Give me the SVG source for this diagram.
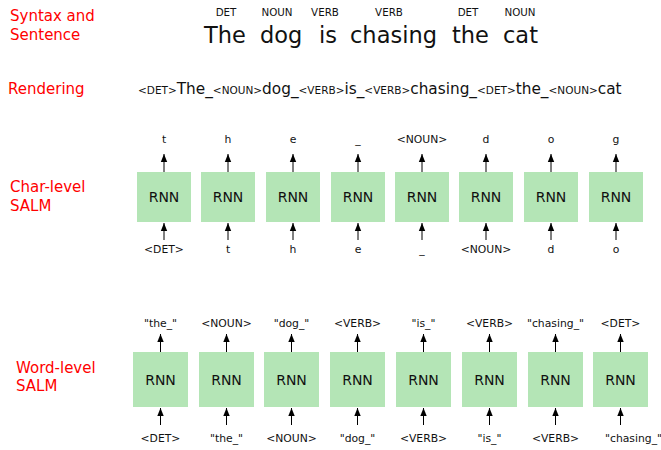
<svg xmlns="http://www.w3.org/2000/svg" width="661" height="450" viewBox="0 0 661 450">
<style>
text{font-family:"DejaVu Sans","Liberation Sans",sans-serif;fill:#111}
.red{fill:#ff0000;font-size:15px}
.pos{font-size:10.3px;text-anchor:middle}
.lbl{font-size:10.8px;text-anchor:middle}
.rnn{font-size:14px;text-anchor:middle}
.box{fill:#b4e5b6}
.arr{stroke:#000;stroke-width:1;fill:none;marker-end:url(#ah)}
.tag{font-size:10.5px}
.wd{font-size:15.3px}
</style>
<defs>
<marker id="ah" markerUnits="userSpaceOnUse" markerWidth="8" markerHeight="8" viewBox="0 0 8 8" refX="8" refY="4" orient="auto">
<path d="M0,0.8 L8,4 L0,7.2 Z" fill="#000"/>
</marker>
</defs>
<rect width="661" height="450" fill="#fff"/>
<g id="labels">
<text class="red" x="10" y="21">Syntax and</text>
<text class="red" x="10" y="40">Sentence</text>
<text class="red" x="8" y="94">Rendering</text>
<text class="red" x="10" y="192">Char-level</text>
<text class="red" x="10" y="211">SALM</text>
<text class="red" x="16" y="373">Word-level</text>
<text class="red" x="16" y="391">SALM</text>
</g>
<g id="sentence">
<text class="pos" x="226" y="16">DET</text>
<text class="pos" x="277" y="16">NOUN</text>
<text class="pos" x="325" y="16">VERB</text>
<text class="pos" x="389" y="16">VERB</text>
<text class="pos" x="468" y="16">DET</text>
<text class="pos" x="520" y="16">NOUN</text>
<text y="43" style="font-size:22.5px"><tspan x="204">The</tspan><tspan x="260">dog</tspan><tspan x="319">is</tspan><tspan x="350">chasing</tspan><tspan x="452">the</tspan><tspan x="503">cat</tspan></text>
</g>
<g id="rendering">
<text x="138" y="94"><tspan class="tag">&lt;DET&gt;</tspan><tspan class="wd">The_</tspan><tspan class="tag">&lt;NOUN&gt;</tspan><tspan class="wd">dog_</tspan><tspan class="tag">&lt;VERB&gt;</tspan><tspan class="wd">is_</tspan><tspan class="tag">&lt;VERB&gt;</tspan><tspan class="wd">chasing_</tspan><tspan class="tag">&lt;DET&gt;</tspan><tspan class="wd">the_</tspan><tspan class="tag">&lt;NOUN&gt;</tspan><tspan class="wd">cat</tspan></text>
</g>
<g id="char-nodes">
<g id="c1"><rect class="box" x="137" y="172" width="54" height="50"/><text class="rnn" x="164" y="202">RNN</text></g>
<g id="c2"><rect class="box" x="201" y="172" width="54" height="50"/><text class="rnn" x="228" y="202">RNN</text></g>
<g id="c3"><rect class="box" x="266" y="172" width="54" height="50"/><text class="rnn" x="293" y="202">RNN</text></g>
<g id="c4"><rect class="box" x="331" y="172" width="54" height="50"/><text class="rnn" x="358" y="202">RNN</text></g>
<g id="c5"><rect class="box" x="395" y="172" width="54" height="50"/><text class="rnn" x="422" y="202">RNN</text></g>
<g id="c6"><rect class="box" x="459" y="172" width="54" height="50"/><text class="rnn" x="486" y="202">RNN</text></g>
<g id="c7"><rect class="box" x="524" y="172" width="54" height="50"/><text class="rnn" x="551" y="202">RNN</text></g>
<g id="c8"><rect class="box" x="589" y="172" width="54" height="50"/><text class="rnn" x="616" y="202">RNN</text></g>
</g>
<g id="char-labels">
<text class="lbl" x="164" y="143">t</text>
<text class="lbl" x="228" y="143">h</text>
<text class="lbl" x="293" y="143">e</text>
<text class="lbl" x="358" y="143">_</text>
<text class="lbl" x="422" y="143">&lt;NOUN&gt;</text>
<text class="lbl" x="486" y="143">d</text>
<text class="lbl" x="551" y="143">o</text>
<text class="lbl" x="616" y="143">g</text>
<text class="lbl" x="164" y="253">&lt;DET&gt;</text>
<text class="lbl" x="228" y="253">t</text>
<text class="lbl" x="293" y="253">h</text>
<text class="lbl" x="358" y="253">e</text>
<text class="lbl" x="422" y="253">_</text>
<text class="lbl" x="486" y="253">&lt;NOUN&gt;</text>
<text class="lbl" x="551" y="253">d</text>
<text class="lbl" x="616" y="253">o</text>
</g>
<g id="word-nodes">
<g id="w1"><rect class="box" x="133" y="352" width="55" height="55"/><text class="rnn" x="160.5" y="385">RNN</text></g>
<g id="w2"><rect class="box" x="199" y="352" width="55" height="55"/><text class="rnn" x="226.5" y="385">RNN</text></g>
<g id="w3"><rect class="box" x="264" y="352" width="55" height="55"/><text class="rnn" x="291.5" y="385">RNN</text></g>
<g id="w4"><rect class="box" x="330" y="352" width="55" height="55"/><text class="rnn" x="357.5" y="385">RNN</text></g>
<g id="w5"><rect class="box" x="396" y="352" width="55" height="55"/><text class="rnn" x="423.5" y="385">RNN</text></g>
<g id="w6"><rect class="box" x="462" y="352" width="55" height="55"/><text class="rnn" x="489.5" y="385">RNN</text></g>
<g id="w7"><rect class="box" x="528" y="352" width="55" height="55"/><text class="rnn" x="555.5" y="385">RNN</text></g>
<g id="w8"><rect class="box" x="593" y="352" width="55" height="55"/><text class="rnn" x="620.5" y="385">RNN</text></g>
</g>
<g id="word-labels">
<text class="lbl" x="160.5" y="327">"the_"</text>
<text class="lbl" x="226.5" y="327">&lt;NOUN&gt;</text>
<text class="lbl" x="291.5" y="327">"dog_"</text>
<text class="lbl" x="357.5" y="327">&lt;VERB&gt;</text>
<text class="lbl" x="423.5" y="327">"is_"</text>
<text class="lbl" x="489.5" y="327">&lt;VERB&gt;</text>
<text class="lbl" x="555.5" y="327">"chasing_"</text>
<text class="lbl" x="620.5" y="327">&lt;DET&gt;</text>
<text class="lbl" x="160.5" y="442">&lt;DET&gt;</text>
<text class="lbl" x="226.5" y="442">"the_"</text>
<text class="lbl" x="291.5" y="442">&lt;NOUN&gt;</text>
<text class="lbl" x="357.5" y="442">"dog_"</text>
<text class="lbl" x="423.5" y="442">&lt;VERB&gt;</text>
<text class="lbl" x="489.5" y="442">"is_"</text>
<text class="lbl" x="555.5" y="442">&lt;VERB&gt;</text>
<text class="lbl" x="605" y="442" style="text-anchor:start">"chasing_"</text>
</g>
<g id="connectors">
<path class="arr" d="M164,172V154"/><path class="arr" d="M228,172V154"/><path class="arr" d="M293,172V154"/><path class="arr" d="M358,172V154"/>
<path class="arr" d="M422,172V154"/><path class="arr" d="M486,172V154"/><path class="arr" d="M551,172V154"/><path class="arr" d="M616,172V154"/>
<path class="arr" d="M164,240V223"/><path class="arr" d="M228,240V223"/><path class="arr" d="M293,240V223"/><path class="arr" d="M358,240V223"/>
<path class="arr" d="M422,240V223"/><path class="arr" d="M486,240V223"/><path class="arr" d="M551,240V223"/><path class="arr" d="M616,240V223"/>
<path class="arr" d="M160.5,352V334"/><path class="arr" d="M226.5,352V334"/><path class="arr" d="M291.5,352V334"/><path class="arr" d="M357.5,352V334"/>
<path class="arr" d="M423.5,352V334"/><path class="arr" d="M489.5,352V334"/><path class="arr" d="M555.5,352V334"/><path class="arr" d="M620.5,352V334"/>
<path class="arr" d="M160.5,425V408"/><path class="arr" d="M226.5,425V408"/><path class="arr" d="M291.5,425V408"/><path class="arr" d="M357.5,425V408"/>
<path class="arr" d="M423.5,425V408"/><path class="arr" d="M489.5,425V408"/><path class="arr" d="M555.5,425V408"/><path class="arr" d="M620.5,425V408"/>
</g>
</svg>
